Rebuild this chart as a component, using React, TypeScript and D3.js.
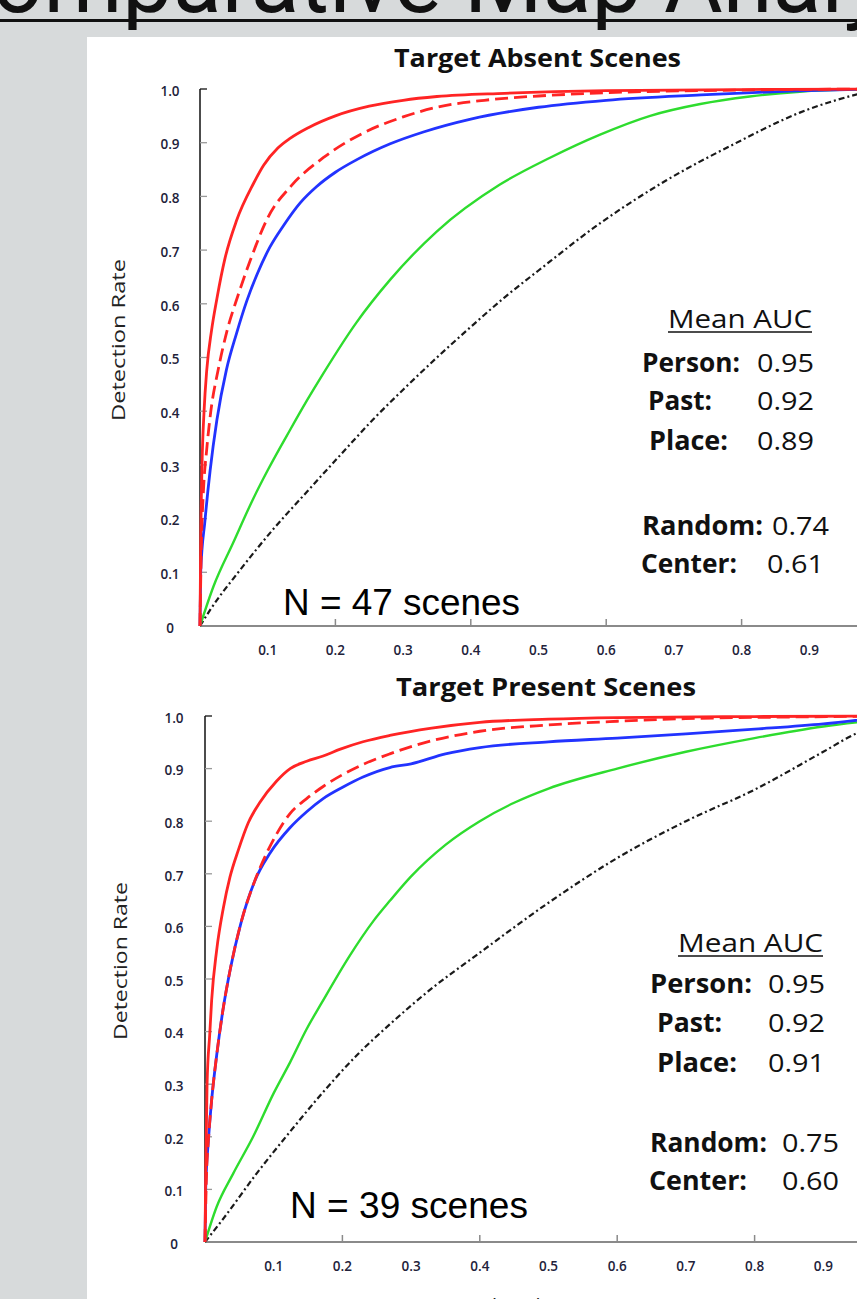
import React from 'react';
import * as d3 from 'd3';

type Pt = [number, number];

// legend rows and AUC values
const seriesNames = ['Person:', 'Past:', 'Place:', 'Random:', 'Center:'];
const absentAuc = ['0.95', '0.92', '0.89', '0.74', '0.61'];
const presentAuc = ['0.95', '0.92', '0.91', '0.75', '0.60'];

const yTicks = [0, 0.1, 0.2, 0.3, 0.4, 0.5, 0.6, 0.7, 0.8, 0.9, 1.0];
const yTickLabels = ['0', '0.1', '0.2', '0.3', '0.4', '0.5', '0.6', '0.7', '0.8', '0.9', '1.0'];
const xLabelTicks = [0.1, 0.2, 0.3, 0.4, 0.5, 0.6, 0.7, 0.8, 0.9];
const xTickLabels = ['0.1', '0.2', '0.3', '0.4', '0.5', '0.6', '0.7', '0.8', '0.9'];
const xMarkTicks = [0.2, 0.4, 0.6, 0.8, 1.0];

// Target Absent Scenes: [false alarm rate, detection rate]
const absentPerson: Pt[] = [[0, 0], [0.001, 0.15], [0.003, 0.3], [0.006, 0.4], [0.01, 0.477], [0.017, 0.55], [0.025, 0.61], [0.037, 0.685], [0.054, 0.755], [0.079, 0.824], [0.094, 0.858], [0.115, 0.89], [0.133, 0.908], [0.16, 0.928], [0.2, 0.95], [0.25, 0.968], [0.3, 0.979], [0.35, 0.986], [0.45, 0.992], [0.6, 0.997], [0.8, 0.999], [1, 1]];
const absentPast: Pt[] = [[0, 0], [0.002, 0.15], [0.005, 0.25], [0.01, 0.33], [0.016, 0.4], [0.027, 0.478], [0.04, 0.55], [0.056, 0.615], [0.074, 0.68], [0.1, 0.76], [0.135, 0.82], [0.182, 0.872], [0.241, 0.918], [0.3, 0.948], [0.35, 0.966], [0.42, 0.979], [0.5, 0.987], [0.6, 0.993], [0.8, 0.998], [1, 1]];
const absentPlace: Pt[] = [[0, 0], [0.001, 0.1], [0.0074, 0.197], [0.015, 0.29], [0.025, 0.384], [0.039, 0.477], [0.054, 0.545], [0.069, 0.605], [0.085, 0.657], [0.103, 0.705], [0.123, 0.745], [0.148, 0.788], [0.172, 0.818], [0.2, 0.845], [0.231, 0.868], [0.256, 0.884], [0.281, 0.898], [0.33, 0.92], [0.4, 0.944], [0.5, 0.966], [0.6, 0.979], [0.74, 0.989], [0.87, 0.996], [1, 1]];
const absentRandom: Pt[] = [[0, 0], [0.02, 0.074], [0.049, 0.155], [0.079, 0.238], [0.1, 0.29], [0.133, 0.365], [0.158, 0.42], [0.182, 0.47], [0.231, 0.565], [0.281, 0.645], [0.35, 0.735], [0.443, 0.822], [0.517, 0.872], [0.591, 0.915], [0.665, 0.95], [0.739, 0.972], [0.812, 0.986], [0.886, 0.995], [1, 1]];
const absentCenter: Pt[] = [[0, 0], [0.015, 0.03], [0.059, 0.104], [0.108, 0.18], [0.158, 0.25], [0.207, 0.318], [0.256, 0.385], [0.3, 0.44], [0.35, 0.5], [0.4, 0.557], [0.45, 0.612], [0.5, 0.662], [0.591, 0.75], [0.689, 0.83], [0.788, 0.897], [0.886, 0.956], [1, 1]];

// Target Present Scenes
const presentPerson: Pt[] = [[0, 0], [0.001, 0.13], [0.003, 0.3], [0.007, 0.397], [0.0097, 0.46], [0.017, 0.555], [0.0267, 0.635], [0.0364, 0.694], [0.0485, 0.745], [0.063, 0.797], [0.08, 0.836], [0.104, 0.876], [0.124, 0.9], [0.148, 0.914], [0.172, 0.924], [0.197, 0.937], [0.23, 0.951], [0.269, 0.963], [0.33, 0.977], [0.4, 0.988], [0.5, 0.994], [0.6, 0.997], [0.8, 0.999], [1, 1]];
const presentPast: Pt[] = [[0, 0], [0.002, 0.12], [0.005, 0.194], [0.0097, 0.27], [0.017, 0.355], [0.026, 0.44], [0.037, 0.52], [0.052, 0.605], [0.072, 0.685], [0.09, 0.74], [0.104, 0.775], [0.124, 0.815], [0.148, 0.843], [0.172, 0.866], [0.201, 0.889], [0.23, 0.908], [0.269, 0.928], [0.33, 0.953], [0.4, 0.971], [0.5, 0.983], [0.6, 0.99], [0.7, 0.995], [0.85, 0.998], [1, 1]];
const presentPlace: Pt[] = [[0, 0], [0.001, 0.1], [0.005, 0.194], [0.0097, 0.27], [0.017, 0.355], [0.026, 0.44], [0.037, 0.52], [0.052, 0.605], [0.072, 0.685], [0.095, 0.74], [0.124, 0.788], [0.148, 0.818], [0.172, 0.843], [0.201, 0.865], [0.23, 0.884], [0.269, 0.902], [0.3, 0.909], [0.35, 0.928], [0.4, 0.94], [0.5, 0.951], [0.6, 0.958], [0.7, 0.966], [0.8, 0.975], [0.9, 0.985], [1, 1]];
const presentRandom: Pt[] = [[0, 0], [0.017, 0.067], [0.041, 0.13], [0.07, 0.2], [0.1, 0.283], [0.124, 0.342], [0.148, 0.405], [0.17, 0.455], [0.211, 0.545], [0.245, 0.61], [0.27, 0.65], [0.3, 0.695], [0.35, 0.755], [0.4, 0.8], [0.45, 0.835], [0.5, 0.862], [0.6, 0.9], [0.7, 0.932], [0.8, 0.958], [0.9, 0.98], [1, 0.995]];
const presentCenter: Pt[] = [[0, 0], [0.027, 0.045], [0.075, 0.13], [0.124, 0.21], [0.172, 0.285], [0.221, 0.355], [0.27, 0.415], [0.33, 0.482], [0.4, 0.55], [0.5, 0.645], [0.6, 0.73], [0.7, 0.8], [0.8, 0.86], [0.9, 0.932], [0.95, 0.968], [1, 0.99]];

const lineStyles = [
  { color: '#ff2424', width: 2.8, dash: 'none' },
  { color: '#ff2424', width: 2.8, dash: '13 6' },
  { color: '#2233ff', width: 2.8, dash: 'none' },
  { color: '#2edc2e', width: 2.4, dash: 'none' },
  { color: '#1a1a1a', width: 2.2, dash: '6 3 2 3' },
];

const uiFont = '"Open Sans", "DejaVu Sans", sans-serif';
const headFont = 'Roboto, "Liberation Sans", sans-serif';

const panels = [
  {
    title: 'Target Absent Scenes', titleX: 394, titleY: 67, titleW: 287,
    x0: 200, x1: 877, yBottom: 626, yTop: 89, yLabelX: 170,
    curves: [absentPerson, absentPast, absentPlace, absentRandom, absentCenter],
    auc: absentAuc,
    nText: 'N = 47 scenes', nX: 283, nY: 615, nW: 237,
    yTitleX: 118, yTitleY: 340, yTitleW: 162,
    meanX: 668, meanY: 328, meanW: 144,
    rowY: [372, 410, 450, 535, 573],
    labelX: [642, 648, 649, 642, 641], labelW: [98, 64, 79, 121, 96],
    valueX: [757, 757, 757, 772, 767],
  },
  {
    title: 'Target Present Scenes', titleX: 396, titleY: 696, titleW: 300,
    x0: 205, x1: 892, yBottom: 1242, yTop: 716, yLabelX: 174,
    curves: [presentPerson, presentPast, presentPlace, presentRandom, presentCenter],
    auc: presentAuc,
    nText: 'N = 39 scenes', nX: 290, nY: 1218, nW: 238,
    yTitleX: 120, yTitleY: 961, yTitleW: 158,
    meanX: 678, meanY: 952, meanW: 145,
    rowY: [993, 1032, 1072, 1152, 1190],
    labelX: [650, 657, 657, 650, 649], labelW: [102, 65, 80, 117, 98],
    valueX: [768, 768, 768, 782, 782],
  },
];

const Panel = ({ p }: { p: typeof panels[0] }) => {
  const x = d3.scaleLinear().domain([0, 1]).range([p.x0, p.x1]);
  const y = d3.scaleLinear().domain([0, 1]).range([p.yBottom, p.yTop]);
  const line = d3.line<Pt>().x(d => x(d[0])).y(d => y(d[1])).curve(d3.curveMonotoneX);

  return (
    <g>
      <text x={p.titleX} y={p.titleY} fontFamily={uiFont} fontWeight={700} fontSize={25}
        textLength={p.titleW} lengthAdjust="spacingAndGlyphs" fill="#111">{p.title}</text>

      {/* y axis */}
      <line x1={x(0)} x2={x(0)} y1={y(0)} y2={y(1)} stroke="#111" strokeWidth={1.5} />
      {yTicks.map((t, i) => (
        <g key={i}>
          {i > 0 && <line x1={x(0)} x2={x(0) + 7} y1={y(t)} y2={y(t)} stroke={i === 10 ? '#111' : '#999'} strokeWidth={1.3} />}
          <text x={p.yLabelX} y={y(t) + 2} dy="0.35em" textAnchor="middle" fontFamily={uiFont}
            fontSize={13.5} fontWeight={600} fill="#22223a">{yTickLabels[i]}</text>
        </g>
      ))}
      <text transform={`translate(${p.yTitleX},${p.yTitleY}) rotate(-90)`} textAnchor="middle" dy="0.35em"
        fontFamily={uiFont} fontSize={19} fill="#222" textLength={p.yTitleW} lengthAdjust="spacingAndGlyphs">Detection Rate</text>

      {/* x axis */}
      <line x1={x(0)} x2={x(1)} y1={y(0)} y2={y(0)} stroke="#8a8a8a" strokeWidth={2} />
      {xMarkTicks.map(t => (
        <line key={t} x1={x(t)} x2={x(t)} y1={y(0)} y2={y(0) - 7} stroke="#8a8a8a" strokeWidth={1.5} />
      ))}
      {xLabelTicks.map((t, i) => (
        <text key={t} x={x(t)} y={y(0) + 29} textAnchor="middle" fontFamily={uiFont} fontSize={13.5}
          fontWeight={600} fill="#22223a">{xTickLabels[i]}</text>
      ))}

      {/* curves, drawn back to front */}
      {[4, 3, 2, 1, 0].map(k => (
        <path key={k} d={line(p.curves[k]) || ''} fill="none" stroke={lineStyles[k].color}
          strokeWidth={lineStyles[k].width} strokeDasharray={lineStyles[k].dash} strokeLinejoin="round" />
      ))}

      <text x={p.nX} y={p.nY} fontFamily='"Liberation Sans", Arial, sans-serif' fontSize={36}
        textLength={p.nW} lengthAdjust="spacingAndGlyphs" fill="#000">{p.nText}</text>

      {/* legend */}
      <text x={p.meanX} y={p.meanY} fontFamily={uiFont} fontSize={26} textLength={p.meanW}
        lengthAdjust="spacingAndGlyphs" fill="#111">Mean AUC</text>
      <line x1={p.meanX} x2={p.meanX + p.meanW} y1={p.meanY + 4} y2={p.meanY + 4} stroke="#111" strokeWidth={1.5} />
      {seriesNames.map((s, i) => (
        <g key={s}>
          <text x={p.labelX[i]} y={p.rowY[i]} fontFamily={uiFont} fontSize={26} fontWeight={700}
            textLength={p.labelW[i]} lengthAdjust="spacingAndGlyphs" fill="#111">{s}</text>
          <text x={p.valueX[i]} y={p.rowY[i]} fontFamily={uiFont} fontSize={26}
            textLength={57} lengthAdjust="spacingAndGlyphs" fill="#111">{p.auc[i]}</text>
        </g>
      ))}
    </g>
  );
};

export default function App() {
  return (
    <svg width={857} height={1299} style={{ position: 'absolute', left: 0, top: 0, display: 'block' }}>
      <rect x={0} y={0} width={857} height={1299} fill="#d7dadb" />
      <rect x={87} y={37} width={770} height={1262} fill="#ffffff" />
      {/* page heading, cut off by the top edge as in the slide */}
      <text x={642} y={12} textAnchor="end" fontFamily={headFont} fontWeight={400} fontSize={90} fill="#111">
        Comparative Map
      </text>
      <text x={664} y={12} fontFamily={headFont} fontWeight={400} fontSize={90} fill="#111">Analysis</text>
      <line x1={0} x2={857} y1={20.5} y2={20.5} stroke="#111" strokeWidth={3} />
      {panels.map((p, i) => <Panel key={i} p={p} />)}
      <text x={548} y={1313} textAnchor="middle" fontFamily={uiFont} fontSize={20} fill="#222">False Alarm Rate</text>
    </svg>
  );
}
